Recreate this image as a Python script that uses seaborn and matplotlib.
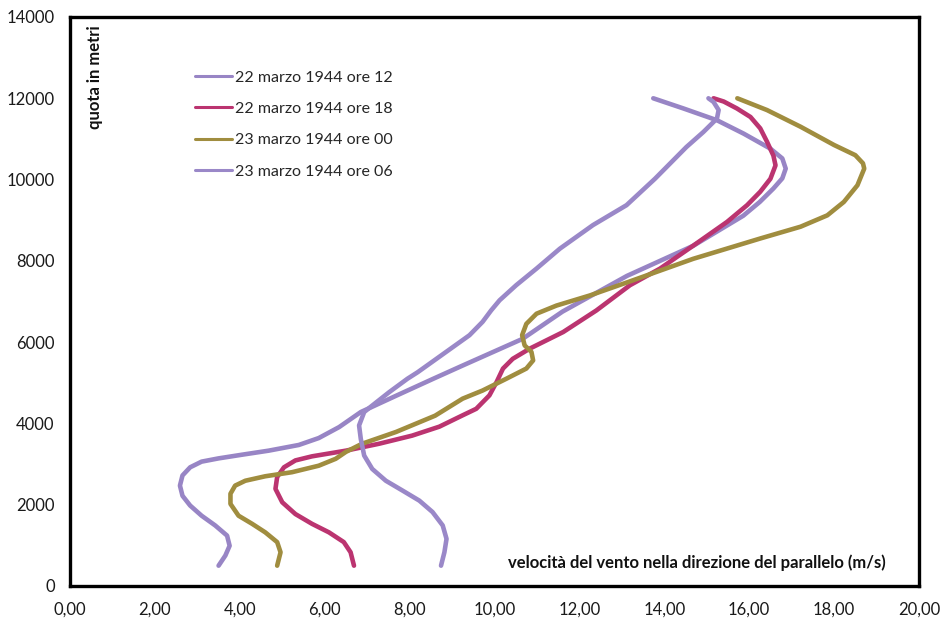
import matplotlib
matplotlib.use("Agg")
import matplotlib.pyplot as plt
import seaborn as sns
import pandas as pd
from matplotlib.ticker import FuncFormatter

# ---- data ----
labels = ["22 marzo 1944 ore 12", "22 marzo 1944 ore 18",
          "23 marzo 1944 ore 00", "23 marzo 1944 ore 06"]

vel_22_12 = [3.50, 3.66, 3.76, 3.70, 3.42, 3.10, 2.83, 2.65, 2.59, 2.65, 2.83, 3.10,
             3.50, 4.05, 4.68, 5.39, 5.86, 6.34, 6.85, 7.68, 8.56, 9.24, 10.66,
             11.60, 13.12, 14.68, 15.86, 16.25, 16.57, 16.78, 16.86, 16.78, 16.50,
             15.87, 15.24, 14.45, 13.74]
quota_22_12 = [500, 750, 990, 1240, 1490, 1730, 1980, 2220, 2470, 2720, 2920, 3060,
               3140, 3230, 3330, 3470, 3640, 3910, 4280, 4680, 5100, 5420, 6080,
               6750, 7630, 8370, 9110, 9450, 9780, 10030, 10270, 10520, 10760,
               11130, 11460, 11750, 12000]

vel_22_18 = [6.69, 6.61, 6.45, 6.10, 5.70, 5.31, 5.00, 4.84, 4.88, 5.04, 5.31, 5.70,
             6.50, 7.28, 8.06, 8.70, 9.25, 9.57, 9.88, 10.05, 10.20, 10.43, 10.83,
             11.62, 12.40, 13.19, 13.90, 14.69, 15.48, 15.95, 16.26, 16.50, 16.62,
             16.57, 16.42, 16.26, 16.03, 15.71, 15.40, 15.16]
quota_22_18 = [500, 830, 1080, 1320, 1530, 1770, 2060, 2390, 2680, 2920, 3090, 3190,
               3330, 3500, 3700, 3920, 4200, 4360, 4690, 5020, 5350, 5590, 5840,
               6250, 6780, 7400, 7810, 8380, 8960, 9370, 9700, 10020, 10350,
               10590, 10930, 11260, 11540, 11750, 11920, 12000]

vel_23_00 = [4.88, 4.96, 4.88, 4.60, 4.29, 3.97, 3.78, 3.78, 3.89, 4.13, 4.60, 5.23,
             5.86, 6.26, 6.50, 6.88, 7.68, 8.60, 9.25, 9.72, 10.28, 10.75, 10.91,
             10.87, 10.71, 10.65, 10.75, 10.99, 11.46, 12.25, 13.15, 14.68, 16.26,
             17.21, 17.84, 18.23, 18.55, 18.71, 18.68, 18.50, 18.00, 17.21, 16.42,
             15.72]
quota_23_00 = [500, 830, 1080, 1320, 1530, 1730, 2020, 2270, 2470, 2590, 2700, 2800,
               2960, 3130, 3300, 3500, 3790, 4190, 4610, 4810, 5100, 5350, 5550,
               5760, 5920, 6170, 6450, 6700, 6900, 7150, 7480, 8050, 8550,
               8840, 9120, 9450, 9860, 10270, 10400, 10600, 10850, 11300, 11710,
               12000]

vel_23_06 = [8.74, 8.82, 8.87, 8.78, 8.54, 8.23, 7.83, 7.44, 7.12, 6.93, 6.85, 6.81,
             6.93, 7.12, 7.52, 7.95, 8.19, 8.74, 9.41, 9.72, 9.92, 10.12, 10.51,
             10.99, 11.54, 12.32, 13.11, 13.78, 14.52, 14.92, 15.24, 15.28, 15.16,
             15.04]
quota_23_06 = [500, 830, 1160, 1490, 1820, 2100, 2350, 2590, 2880, 3210, 3620, 3950,
               4280, 4440, 4770, 5100, 5260, 5670, 6170, 6500, 6780, 7030, 7400,
               7810, 8300, 8880, 9370, 10020, 10800, 11170, 11500, 11710, 11910,
               12000]

colors = ["#9885c5", "#bb3470", "#a08d3f", "#9a88c8"]

series_v = [vel_22_12, vel_22_18, vel_23_00, vel_23_06]
series_q = [quota_22_12, quota_22_18, quota_23_00, quota_23_06]

frames = []
for lab, v, q in zip(labels, series_v, series_q):
    frames.append(pd.DataFrame({"vel": v, "quota": q, "serie": lab}))
df = pd.concat(frames, ignore_index=True)

sns.set_theme(style="white")
plt.rcParams["font.family"] = ["Lato", "DejaVu Sans"]

fig = plt.figure(figsize=(9.44, 6.24), dpi=100)
ax = fig.add_axes([70/944, 1-586/624, 849/944, 569/624])

sns.lineplot(data=df, x="vel", y="quota", hue="serie", hue_order=labels,
             palette=colors, sort=False, estimator=None, units="serie",
             linewidth=3.3, ax=ax, legend=True,
             solid_capstyle="round", solid_joinstyle="round")

ax.set_xlim(0, 20)
ax.set_ylim(0, 14000)
ax.set_xticks(range(0, 21, 2))
ax.set_yticks(range(0, 14001, 2000))
ax.xaxis.set_major_formatter(FuncFormatter(lambda v, p: f"{v:.2f}".replace(".", ",")))
ax.yaxis.set_major_formatter(FuncFormatter(lambda v, p: f"{int(v)}"))
ax.tick_params(axis="both", length=0, labelsize=12, colors="#1a1a1a")
ax.tick_params(axis="x", pad=11)
ax.tick_params(axis="y", pad=11)
for s in ax.spines.values():
    s.set_visible(True)
    s.set_color("black")
    s.set_linewidth(2.4)
ax.grid(False)
ax.set_xlabel("")
ax.set_ylabel("")

ax.text(0.029, 0.985, "quota in metri", transform=ax.transAxes, rotation=90,
        ha="center", va="top", fontsize=12, fontweight="bold", color="#111111")
ax.text(0.961, 0.041, "velocità del vento nella direzione del parallelo (m/s)",
        transform=ax.transAxes, ha="right", va="center", fontsize=12,
        fontweight="bold", color="#111111")

leg = ax.legend(loc="center left", bbox_to_anchor=(0.147, 0.811), frameon=False,
                fontsize=11.5, handlelength=2.3, handletextpad=0.2,
                labelspacing=1.07, borderpad=0, borderaxespad=0)
for h in leg.get_lines():
    h.set_linewidth(2.2)

fig.savefig("out.png", dpi=100)
